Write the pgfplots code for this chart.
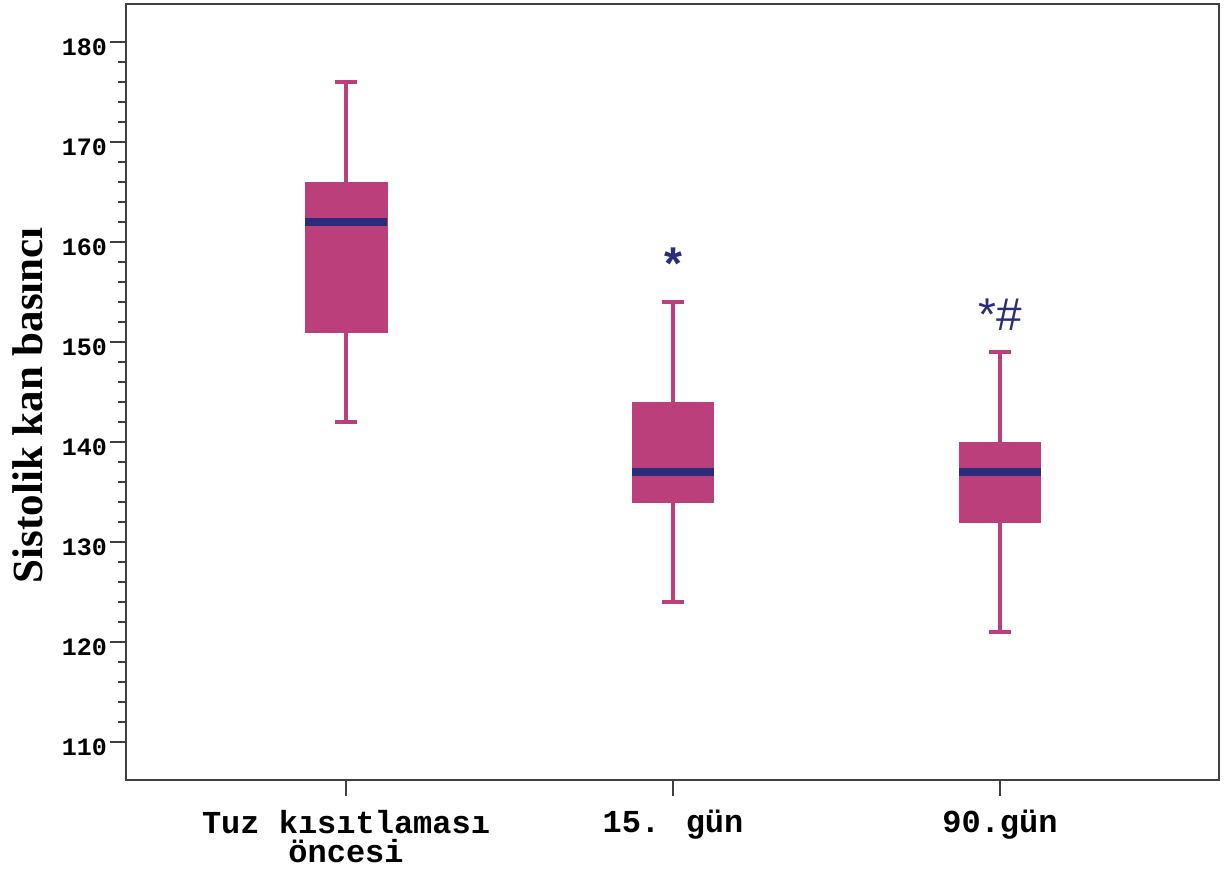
\documentclass[border=0pt]{standalone}
\usepackage{fontspec}
\setmainfont{Liberation Serif}
\newfontfamily\monofam{Liberation Mono}
\newfontfamily\sansfam{Liberation Sans}
\usepackage{pgfplots}
\pgfplotsset{compat=1.18}

\definecolor{boxpink}{HTML}{BB3F7B}
\definecolor{mednavy}{HTML}{2B2D7C}
\definecolor{axgray}{HTML}{404040}

% whiskers (with caps), box, and median of one group at position #1
% #2 lower whisker, #3 lower quartile, #4 median, #5 upper quartile, #6 upper whisker
\newcommand\groupbox[6]{%
  \addplot[boxpink, line width=2pt] coordinates {(#1,#2) (#1,#6)};
  \addplot[boxpink, line width=2pt] coordinates {(#1-0.034,#2) (#1+0.034,#2)};
  \addplot[boxpink, line width=2pt] coordinates {(#1-0.034,#6) (#1+0.034,#6)};
  \addplot[draw=boxpink, fill=boxpink, line width=0.4pt]
    coordinates {(#1-0.125,#3) (#1+0.125,#3) (#1+0.125,#5) (#1-0.125,#5)} -- cycle;
  \addplot[mednavy, line width=4pt] coordinates {(#1-0.125,#4) (#1+0.125,#4)};
}

\begin{document}
\begin{tikzpicture}
\begin{axis}[
  name=ax,
  scale only axis,
  width=546.5pt, height=388pt,
  xmin=-0.673, xmax=2.670,
  ymin=106.2, ymax=183.8,
  ytick={110,120,...,180},
  minor y tick num=4,
  xtick={0,1,2},
  xticklabels={{Tuz kısıtlaması\\öncesi},{15. gün},{90.gün}},
  tick align=outside,
  ytick pos=left, xtick pos=bottom,
  axis line style={draw=axgray, line width=1pt},
  every tick/.style={axgray, line width=0.9pt},
  major tick length=8pt,
  minor tick length=4pt,
  /pgf/number format/assume math mode=true,
  yticklabel style={font=\monofam\bfseries\fontsize{12.5}{12.5}\selectfont,
    yshift=-2.8pt, xshift=2pt},
  xticklabel style={font=\monofam\bfseries\fontsize{16}{14.5}\selectfont,
    align=center, yshift=-3.5pt},
  ylabel={Sistolik kan basıncı},
  ylabel style={font=\bfseries\fontsize{21.5}{22}\selectfont,
    at={(axis description cs:-0.0897,0.483)}, anchor=center},
]
% before salt restriction
\groupbox{0}{142}{151}{162}{166}{176}
% day 15
\groupbox{1}{124}{134}{137}{144}{154}
% day 90
\groupbox{2}{121}{132}{137}{140}{149}

\node[anchor=north, inner sep=0pt, text=mednavy,
  font=\sansfam\bfseries\fontsize{23}{23}\selectfont] at (axis cs:1,159.5) {*};
\node[anchor=north, inner sep=0pt, text=mednavy,
  font=\sansfam\fontsize{23}{23}\selectfont] at (axis cs:2,154.4) {*\#};
\end{axis}
\pgfresetboundingbox
\path ([shift={(-63pt,-45pt)}]ax.south west) rectangle ([shift={(3.5pt,2pt)}]ax.north east);
\end{tikzpicture}
\end{document}
